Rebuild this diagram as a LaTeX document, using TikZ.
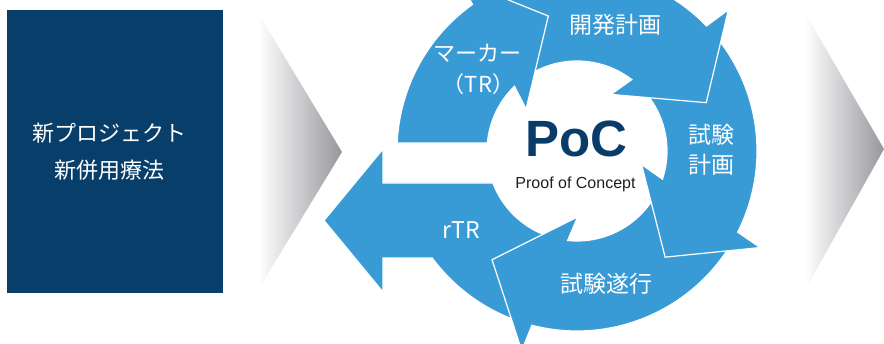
\documentclass[tikz,border=0pt]{standalone}
\usepackage{fontspec}
\setmainfont{Liberation Sans}
\newfontfamily\cjk{Noto Sans CJK JP}
\definecolor{ringblue}{RGB}{57,155,214}
\definecolor{navy}{RGB}{7,62,106}
\definecolor{pocblue}{RGB}{10,60,105}
\definecolor{chevgray}{RGB}{150,151,156}
\definecolor{textdark}{RGB}{35,31,32}
\begin{document}
\begin{tikzpicture}[x=1pt,y=1pt,
  cyc/.style={fill=ringblue, draw=white, line width=1.2pt, line join=miter},
  jp/.style={text=white, font=\cjk\fontsize{#1}{#1}\selectfont, inner sep=0pt, anchor=base},
  jp/.default=22,
  chev/.style={left color=white, right color=chevgray, draw=none}]
\useasboundingbox (0,0) rectangle (884,344);
\fill[white] (0,0) rectangle (884,344);
% left box
\node[fill=navy, minimum width=216, minimum height=283, inner sep=0pt, anchor=south west] (box) at (7,51) {};
\node[jp=22] (t1) at (109,202.9) {新プロジェクト};
\node[jp=22] (t2) at (109,165.6) {新併用療法};
% chevrons
\shade[chev] (258,331) -- (342,192) -- (258,54) -- cycle;
\shade[chev] (805,331) -- (884,195) -- (805,54) -- cycle;
% cycle arrows
\begin{scope}[shift={(577,193)}]
% rTR
\path[cyc] (-101.5:180) arc[start angle=-101.5, end angle=-143.5, radius=180pt]
  -- (-194,-107) -- (-194,-141) -- (-253,-69.5) -- (-194,2) -- (-194,-32)
  -- (-159.17:90) arc[start angle=-159.17, end angle=-93, radius=90pt] -- cycle;
% shiken suikou
\path[cyc] (-23.8:180) arc[start angle=-23.8, end angle=-104.5, radius=180pt]
  -- (-105.5:207) -- (-128:138) -- (-89.5:66) -- (-96:90)
  arc[start angle=-96, end angle=-15.3, radius=90pt] -- cycle;
% shiken keikaku
\path[cyc] (47:180) arc[start angle=47, end angle=-26.8, radius=180pt]
  -- (-27.8:207) -- (-50.3:138) -- (-11.8:66) -- (-18.3:90)
  arc[start angle=-18.3, end angle=55.5, radius=90pt] -- cycle;
% kaihatsu keikaku
\path[cyc] (128.5:180) arc[start angle=128.5, end angle=44, radius=180pt]
  -- (43:207) -- (20.5:138) -- (59:66) -- (52.5:90)
  arc[start angle=52.5, end angle=137, radius=90pt] -- cycle;
% marker
\path[cyc] (177.45:180) arc[start angle=177.45, end angle=125.5, radius=180pt]
  -- (124.5:207) -- (102:138) -- (140.5:66) -- (134:90)
  arc[start angle=134, end angle=174.9, radius=90pt] -- cycle;
\end{scope}
% labels
\node[jp=23] (kaihatsu) at (615.5,310.3) {開発計画};
\node[jp=22] (marker) at (477.5,282.6) {マーカー};
\node[jp=22] (tr) at (478.5,251.6) {（TR）};
\node[jp=23] (shiken1) at (711.5,200.6) {試験};
\node[jp=23] (shiken2) at (711.5,170.6) {計画};
\node[jp=23] (suikou) at (606.5,51.3) {試験遂行};
\node[jp=23] (rtr) at (461,105.7) {rTR};
\node[font=\fontsize{51}{51}\selectfont\bfseries, text=pocblue, inner sep=0pt, anchor=base] (poc) at (576,187) {PoC};
\node[font=\fontsize{16}{16}\selectfont, text=textdark, inner sep=0pt, anchor=base] (proof) at (575.5,155.7) {Proof of Concept};
\end{tikzpicture}
\end{document}
